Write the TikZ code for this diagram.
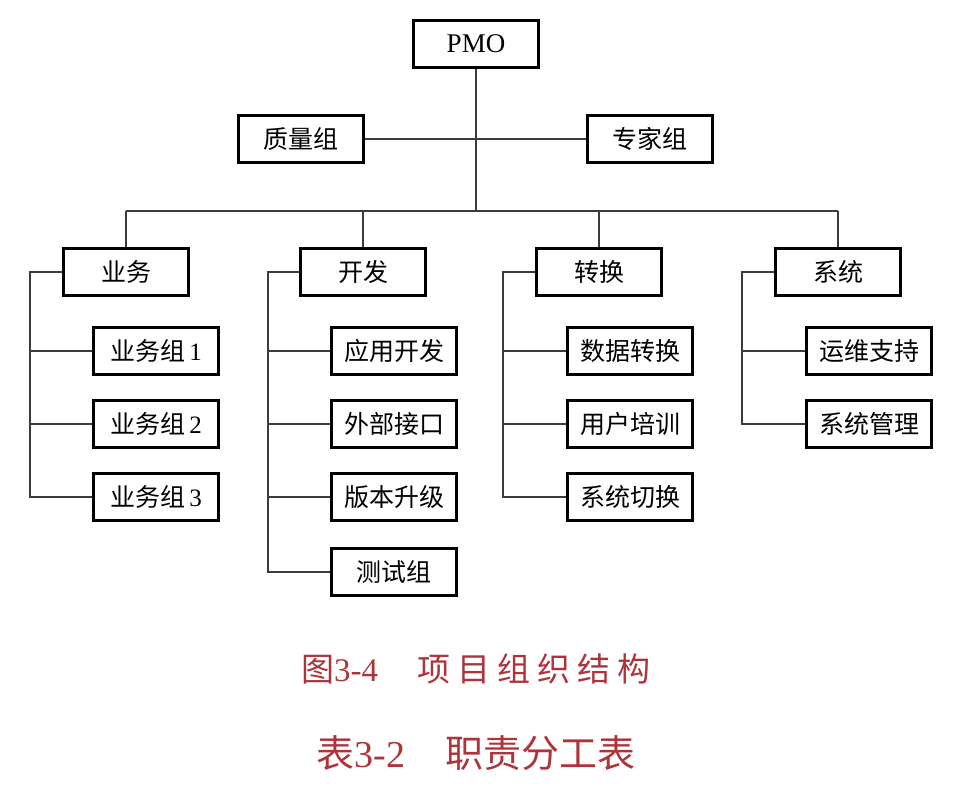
\documentclass[tikz,border=0pt]{standalone}
\usepackage{fontspec}
\setmainfont{Liberation Serif}
\newfontfamily\cjk{Noto Sans CJK SC}
\usepackage{tikz}
\definecolor{capred}{RGB}{172,52,58}
\definecolor{linkgray}{RGB}{60,60,60}
\tikzset{
  box/.style={draw, line width=2.5pt, minimum width=125pt, minimum height=47pt,
    inner sep=0pt, font=\fontsize{25}{29}\selectfont\cjk},
  link/.style={draw=linkgray, line width=1.8pt}
}

\begin{document}
\begin{tikzpicture}[x=1pt,y=-1pt]
            \useasboundingbox (0,0) rectangle (954,800);
            % top levels
            \node (pmo) at (476,44) [box, font=\fontsize{27}{31}\selectfont]{PMO};
            \node (zlz) at (301,139) [box]{质量组};
            \node (zjz) at (650,139) [box]{专家组};
            \coordinate (bus) at (476,211);
            
            % departments
            \node (yw) at (126,272) [box]{业务};
            \node (kf) at (363,272) [box]{开发};
            \node (zh) at (599,272) [box]{转换};
            \node (xt) at (838,272) [box]{系统};
            
            % groups under 业务
            \node (yw1) at (156,351) [box]{业务组\,{\rmfamily 1}};
            \node (yw2) at (156,424) [box]{业务组\,{\rmfamily 2}};
            \node (yw3) at (156,497) [box]{业务组\,{\rmfamily 3}};
            
            % groups under 开发
            \node (kf1) at (394,351) [box]{应用开发};
            \node (kf2) at (394,424) [box]{外部接口};
            \node (kf3) at (394,497) [box]{版本升级};
            \node (kf4) at (394,572) [box]{测试组};
            
            % groups under 转换
            \node (zh1) at (630,351) [box]{数据转换};
            \node (zh2) at (630,424) [box]{用户培训};
            \node (zh3) at (630,497) [box]{系统切换};
            
            % groups under 系统
            \node (xt1) at (869,351) [box]{运维支持};
            \node (xt2) at (869,424) [box]{系统管理};
            
            % rails on the left of each column
            \coordinate (ywr) at (30,272);
            \coordinate (kfr) at (268,272);
            \coordinate (zhr) at (503,272);
            \coordinate (xtr) at (742,272);
            
            % trunk and bus
            \draw[link] (pmo) -- (bus);
            \draw[link] (zlz) -- (zjz);
            \draw[link] (yw.north |- bus) -- (xt.north |- bus);
            \foreach \d in {yw,kf,zh,xt}
              \draw[link] (\d.north) -- (\d.north |- bus);
            
            % rails
            \draw[link] (yw.west) -- (ywr) |- (yw3.west);
            \draw[link] (kf.west) -- (kfr) |- (kf4.west);
            \draw[link] (zh.west) -- (zhr) |- (zh3.west);
            \draw[link] (xt.west) -- (xtr) |- (xt2.west);
            \foreach \g/\r in {yw1/ywr,yw2/ywr,kf1/kfr,kf2/kfr,kf3/kfr,zh1/zhr,zh2/zhr,xt1/xtr}
              \draw[link] (\g.west) -- (\g.west -| \r);
            
            % captions
            \node (cap1) at (476,669) [text=capred, font=\fontsize{33}{38}\selectfont]
              {{\cjk 图}3-4\hspace{1.2em}{\cjk 项\hspace{7pt}目\hspace{7pt}组\hspace{7pt}织\hspace{7pt}结\hspace{7pt}构}};
            \node (cap2) at (476,753) [text=capred, font=\fontsize{38}{43}\selectfont]
              {{\cjk 表}3-2\hspace{1.05em}{\cjk 职责分工表}};
            \end{tikzpicture}
\end{document}
